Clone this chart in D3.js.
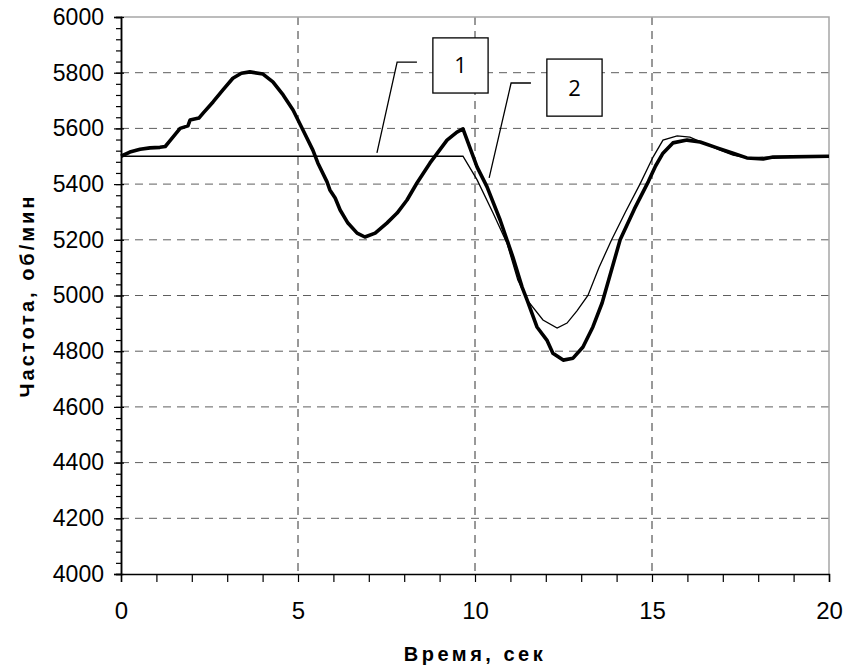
<!DOCTYPE html>
<html>
<head>
<meta charset="utf-8">
<script src="https://cdn.jsdelivr.net/npm/d3@7"></script>
<style>
  body { margin: 0; background: #fff; }
  svg { display: block; }
</style>
</head>
<body>
<svg id="chart"></svg>
<script>
// series 1 (thin line)
let time1 = [0, 9.66, 10.06, 10.51, 10.9, 11.21, 11.5, 11.92, 12.32, 12.6, 12.88, 13.19, 13.5, 13.86, 14.25, 14.66, 15.03, 15.31, 15.71, 16.07, 16.44, 16.92, 17.29, 17.68, 18.25, 20]
let freq1 = [5500, 5500, 5415, 5296, 5189, 5056, 4980, 4912, 4883, 4901, 4945, 5000, 5100, 5200, 5300, 5400, 5497, 5558, 5573, 5569, 5548, 5522, 5504, 5494, 5497, 5500]

// series 2 (thick line)
let time2 = [0, 0.25, 0.54, 0.82, 1.1, 1.25, 1.38, 1.67, 1.89, 1.95, 2.2, 2.32, 2.6, 2.88, 3.16, 3.4, 3.64, 4.01, 4.29, 4.58, 4.86, 5.14, 5.42, 5.56, 5.82, 5.9, 6.05, 6.19, 6.41, 6.67, 6.89, 7.18, 7.51, 7.8, 8.08, 8.36, 8.73, 9.21, 9.49, 9.66, 10.06, 10.34, 10.71, 11.07, 11.33, 11.47, 11.75, 12.03, 12.2, 12.49, 12.77, 13.05, 13.33, 13.59, 14.1, 14.5, 14.9, 15.1, 15.31, 15.59, 15.99, 16.36, 16.84, 17.29, 17.68, 18.14, 18.42, 20]
let freq2 = [5500, 5515, 5525, 5530, 5532, 5535, 5555, 5600, 5609, 5630, 5637, 5655, 5695, 5738, 5780, 5798, 5803, 5795, 5767, 5720, 5666, 5594, 5522, 5476, 5408, 5379, 5350, 5307, 5260, 5224, 5210, 5224, 5260, 5296, 5343, 5404, 5476, 5558, 5587, 5598, 5461, 5390, 5271, 5138, 5030, 4984, 4887, 4840, 4793, 4768, 4775, 4815, 4887, 4973, 5200, 5310, 5410, 5465, 5511, 5548, 5558, 5551, 5530, 5511, 5494, 5490, 5497, 5500]

let xTicks = [0, 5, 10, 15, 20]
let yTicks = [4000, 4200, 4400, 4600, 4800, 5000, 5200, 5400, 5600, 5800, 6000]

// callouts: label, box corners [t, v], leader points [t, v]
let labels = ["1", "2"]
let boxes = [[[8.81, 5925], [10.37, 5727]], [[12.03, 5849], [13.59, 5644]]]
let leaders = [[[8.36, 5838], [7.8, 5838], [7.23, 5512]], [[11.58, 5763], [11.02, 5763], [10.4, 5422]]]

let width = 849
let height = 672
let margin = {top: 17, right: 20, bottom: 98, left: 121}
let font = "Liberation Sans, Arial, sans-serif"

let svg = d3.select('#chart')
  .attr("width", width)
  .attr("height", height)

let x = d3.scaleLinear().domain([0, 20]).range([margin.left, width - margin.right])
let y = d3.scaleLinear().domain([4000, 6000]).range([height - margin.bottom, margin.top])

// grid
svg.append("g")
  .selectAll("line")
  .data(yTicks.filter(d => d > 4000 && d < 6000))
  .enter().append("line")
  .attr("x1", x(0)).attr("x2", x(20))
  .attr("y1", d => y(d)).attr("y2", d => y(d))
  .attr("stroke", "#5e5e5e").attr("stroke-width", 1)
  .attr("stroke-dasharray", "8,6")

svg.append("g")
  .selectAll("line")
  .data(xTicks.filter(d => d > 0 && d < 20))
  .enter().append("line")
  .attr("x1", d => x(d)).attr("x2", d => x(d))
  .attr("y1", y(6000)).attr("y2", y(4000))
  .attr("stroke", "#333").attr("stroke-width", 1)
  .attr("stroke-dasharray", "8,6")

// plot frame (top and right)
svg.append("path")
  .attr("d", `M${x(0)},${y(6000)}H${x(20)}V${y(4000)}`)
  .attr("fill", "none")
  .attr("stroke", "#a6a6a6")
  .attr("stroke-width", 1.5)

// axes
let yAxis = d3.axisLeft(y).tickValues(yTicks).tickSize(7).tickPadding(10).tickFormat(d3.format("d"))
let yMinor = d3.axisLeft(y).tickValues(d3.range(4000, 6001, 40)).tickSize(5).tickFormat("")
let xAxis = d3.axisBottom(x).tickValues(d3.range(0, 21, 1)).tickSize(8).tickPadding(20)
  .tickFormat(d => xTicks.includes(d) ? d : "")

svg.append("g").attr("transform", `translate(${x(0)},0)`).call(yMinor)
let gy = svg.append("g").attr("transform", `translate(${x(0)},0)`).call(yAxis)
gy.selectAll(".tick line").attr("x2", -7).attr("x1", 3)
let gx = svg.append("g").attr("transform", `translate(0,${y(4000)})`).call(xAxis)

svg.selectAll(".domain").attr("stroke", "#000").attr("stroke-width", 1.5)
svg.selectAll(".tick line").attr("stroke", "#000").attr("stroke-width", 1.2)
svg.selectAll(".tick text").attr("font-family", font).attr("fill", "#000")
gx.selectAll(".tick text").attr("font-size", 24)
gy.selectAll(".tick text").attr("font-size", 23)

// lines
let line = d3.line().x(d => x(d[0])).y(d => y(d[1]))

svg.append("path")
  .datum(time1.map((t, i) => [t, freq1[i]]))
  .attr("d", line)
  .attr("fill", "none")
  .attr("stroke", "#000")
  .attr("stroke-width", 1.3)

svg.append("path")
  .datum(time2.map((t, i) => [t, freq2[i]]))
  .attr("d", line)
  .attr("fill", "none")
  .attr("stroke", "#000")
  .attr("stroke-width", 3.6)
  .attr("stroke-linejoin", "round")

// callouts
leaders.forEach(function(pts) {
  svg.append("path")
    .attr("d", d3.line().x(p => x(p[0])).y(p => y(p[1]))(pts))
    .attr("fill", "none")
    .attr("stroke", "#000")
    .attr("stroke-width", 1.3)
})

boxes.forEach(function(b, i) {
  let x0 = x(b[0][0]), x1 = x(b[1][0])
  let y0 = y(b[0][1]), y1 = y(b[1][1])
  svg.append("rect")
    .attr("x", x0).attr("y", y0)
    .attr("width", x1 - x0).attr("height", y1 - y0)
    .attr("fill", "#fff")
    .attr("stroke", "#000")
    .attr("stroke-width", 1.3)
  svg.append("text")
    .attr("x", (x0 + x1) / 2)
    .attr("y", (y0 + y1) / 2)
    .attr("dy", "0.36em")
    .attr("text-anchor", "middle")
    .attr("font-family", "Open Sans, Liberation Sans, sans-serif")
    .attr("font-size", 22)
    .text(labels[i])
})

// axis titles
svg.append("text")
  .attr("x", (x(0) + x(20)) / 2)
  .attr("y", 661)
  .attr("text-anchor", "middle")
  .attr("font-family", font)
  .attr("font-weight", "bold")
  .attr("font-size", 20)
  .attr("letter-spacing", 3.5)
  .text("Время, сек")

svg.append("text")
  .attr("transform", `translate(34,${(y(4000) + y(6000)) / 2}) rotate(-90)`)
  .attr("text-anchor", "middle")
  .attr("font-family", font)
  .attr("font-weight", "bold")
  .attr("font-size", 20)
  .attr("letter-spacing", 3)
  .text("Частота, об/мин")
</script>
</body>
</html>
